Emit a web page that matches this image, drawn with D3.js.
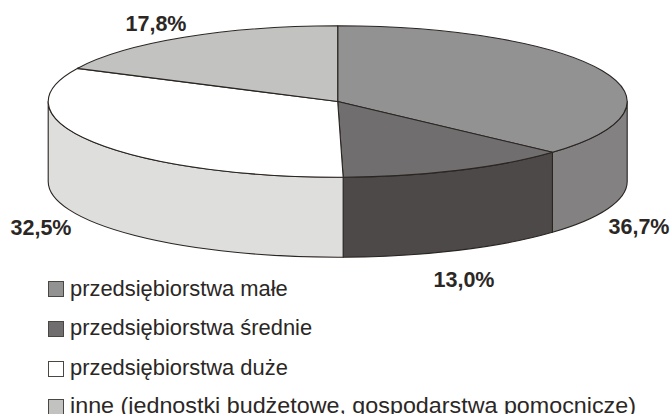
<!DOCTYPE html>
<html><head><meta charset="utf-8">
<style>html,body{margin:0;padding:0;background:#fff}svg{display:block}text{font-family:"Liberation Sans",Arial,sans-serif;fill:#2b2725}</style>
<script src="https://cdn.jsdelivr.net/npm/d3@7"></script></head><body>
<svg id="c" width="670" height="414"></svg>
<script>
const categories=["przedsiębiorstwa małe","przedsiębiorstwa średnie","przedsiębiorstwa duże","inne (jednostki budżetowe, gospodarstwa pomocnicze)"];
const values=[36.7,13.0,32.5,17.8];
const valueLabels=["36,7%","13,0%","32,5%","17,8%"];
const topColors=["#929292","#706e6e","#ffffff","#c2c2c0"];
const wallColors=["#838181","#4d4948","#dededc","#c2c2c0"];
const legendColors=["#929292","#706e6e","#ffffff","#c2c2c0"];

const cx=337.7,cy=101.5,rx=289.5,ry=75.7,depth=80;
const stroke="#2a2522";
const svg=d3.select("#c");
const arcs=d3.pie().sort(null).value(d=>d)(values);
const pt=(a,dy=0)=>[cx+rx*Math.sin(a),cy-ry*Math.cos(a)+dy];
const wallGroup=svg.append("g");
arcs.forEach((d,i)=>{
  const a=Math.max(d.startAngle,Math.PI/2),b=Math.min(d.endAngle,Math.PI*1.5);
  if(a>=b)return;
  const [x0,y0]=pt(a),[x1,y1]=pt(b);
  const [x2,y2]=pt(b,depth),[x3,y3]=pt(a,depth);
  const s=`M${x0},${y0}A${rx},${ry} 0 0 1 ${x1},${y1}L${x2},${y2}A${rx},${ry} 0 0 0 ${x3},${y3}Z`;
  wallGroup.append("path").attr("d",s).attr("fill",wallColors[i]).attr("stroke",stroke).attr("stroke-width",1.1).attr("stroke-linejoin","round");
});
const arc=d3.arc().innerRadius(0).outerRadius(rx);
svg.append("g").attr("transform",`translate(${cx},${cy}) scale(1,${ry/rx})`)
  .selectAll("path").data(arcs).join("path")
  .attr("d",arc).attr("fill",(d,i)=>topColors[i])
  .attr("stroke",stroke).attr("stroke-width",1.1).attr("stroke-linejoin","round")
  .attr("vector-effect","non-scaling-stroke");
const labelX=[639,464,41,156],labelY=[234,286.5,235,31];
svg.append("g").selectAll("text").data(valueLabels).join("text")
  .attr("x",(d,i)=>labelX[i]).attr("y",(d,i)=>labelY[i])
  .attr("text-anchor","middle")
  .attr("font-size",21.5).attr("font-weight","bold").text(d=>d);
const ly=[296,335,375,412.5];
const sy=[281,321,361,399];
const lg=svg.append("g").selectAll("g").data(categories).join("g");
lg.append("rect").attr("x",48.5).attr("y",(d,i)=>sy[i]+.5).attr("width",15).attr("height",15).attr("fill",(d,i)=>legendColors[i]).attr("stroke","#4a4644").attr("stroke-width",1);
lg.append("text").attr("x",70).attr("y",(d,i)=>ly[i]).attr("font-size",21.9).attr("textLength",(d,i)=>i==3?566:null).attr("lengthAdjust","spacingAndGlyphs").text(d=>d);
</script></body></html>
